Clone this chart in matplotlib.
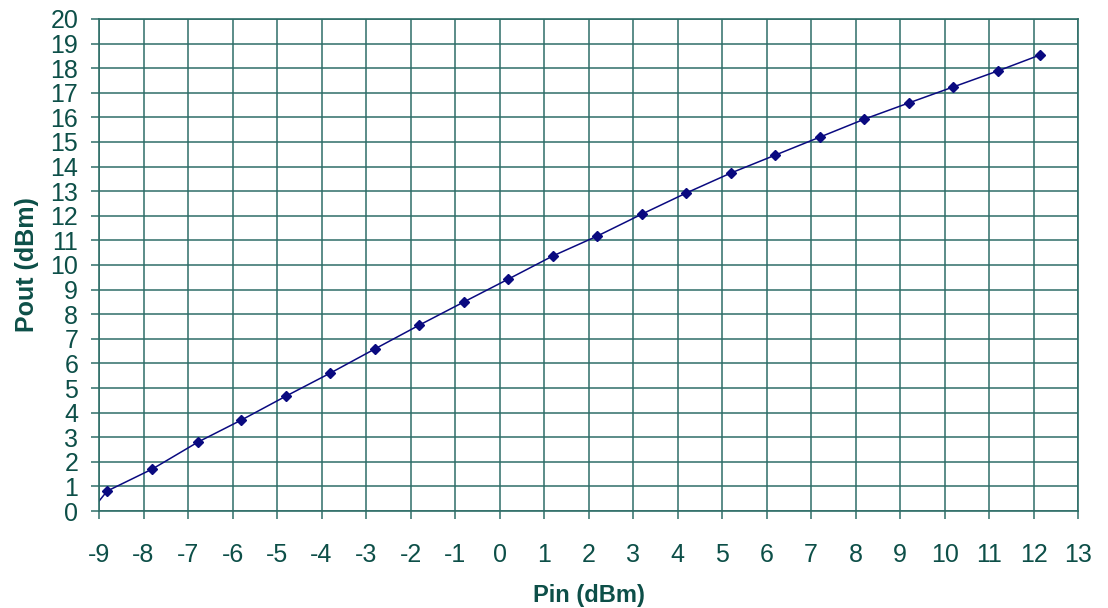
import matplotlib
matplotlib.use('Agg')
import matplotlib.pyplot as plt
import numpy as np

# measured Pin / Pout (dBm); first point lies left of the axis and gets clipped
pin = [-9.8, -8.82, -7.8, -6.78, -5.8, -4.8, -3.8, -2.8, -1.8, -0.8, 0.2, 1.2, 2.2,
       3.2, 4.2, 5.2, 6.2, 7.2, 8.2, 9.2, 10.2, 11.2, 12.15]
pout = [-1.4, 0.81, 1.71, 2.80, 3.70, 4.67, 5.61, 6.59, 7.56, 8.50, 9.43, 10.37, 11.18,
        12.07, 12.93, 13.74, 14.47, 15.20, 15.93, 16.59, 17.24, 17.89, 18.54]

teal = '#0d4f48'
grid_c = '#2f6e68'
navy = '#0a0a80'

plt.rcParams['font.family'] = ['Liberation Sans Narrow', 'Liberation Sans', 'DejaVu Sans']
plt.rcParams['axes.unicode_minus'] = False

fig = plt.figure(figsize=(11.08, 6.08), dpi=100)
ax = fig.add_axes([0.0894, 0.1595, 0.8836, 0.8093])

ax.plot(pin, pout, '-', color=navy, lw=1.1, marker='D', ms=5,
        markevery=list(range(1, len(pin))), mfc=navy, mec=navy)

ax.set_xlim(-9, 13)
ax.set_ylim(0, 20)
ax.set_xticks(np.arange(-9, 14, 1))
ax.set_yticks(np.arange(0, 21, 1))
ax.grid(True, color=grid_c, lw=1.1)
ax.set_axisbelow(True)
for s in ax.spines.values():
    s.set_color(grid_c)
    s.set_linewidth(1.2)

ax.tick_params(axis='x', direction='out', length=6, width=1.1, color=grid_c,
               labelcolor=teal, labelsize=18, pad=17)
ax.tick_params(axis='y', direction='out', length=6, width=1.1, color=grid_c,
               labelcolor=teal, labelsize=18, pad=9)

ax.set_xlabel('Pin (dBm)', color=teal, fontsize=17, fontweight='bold', labelpad=12)
ax.set_ylabel('Pout (dBm)', color=teal, fontsize=18, fontweight='bold', labelpad=8)

fig.savefig('out.png', dpi=100)
